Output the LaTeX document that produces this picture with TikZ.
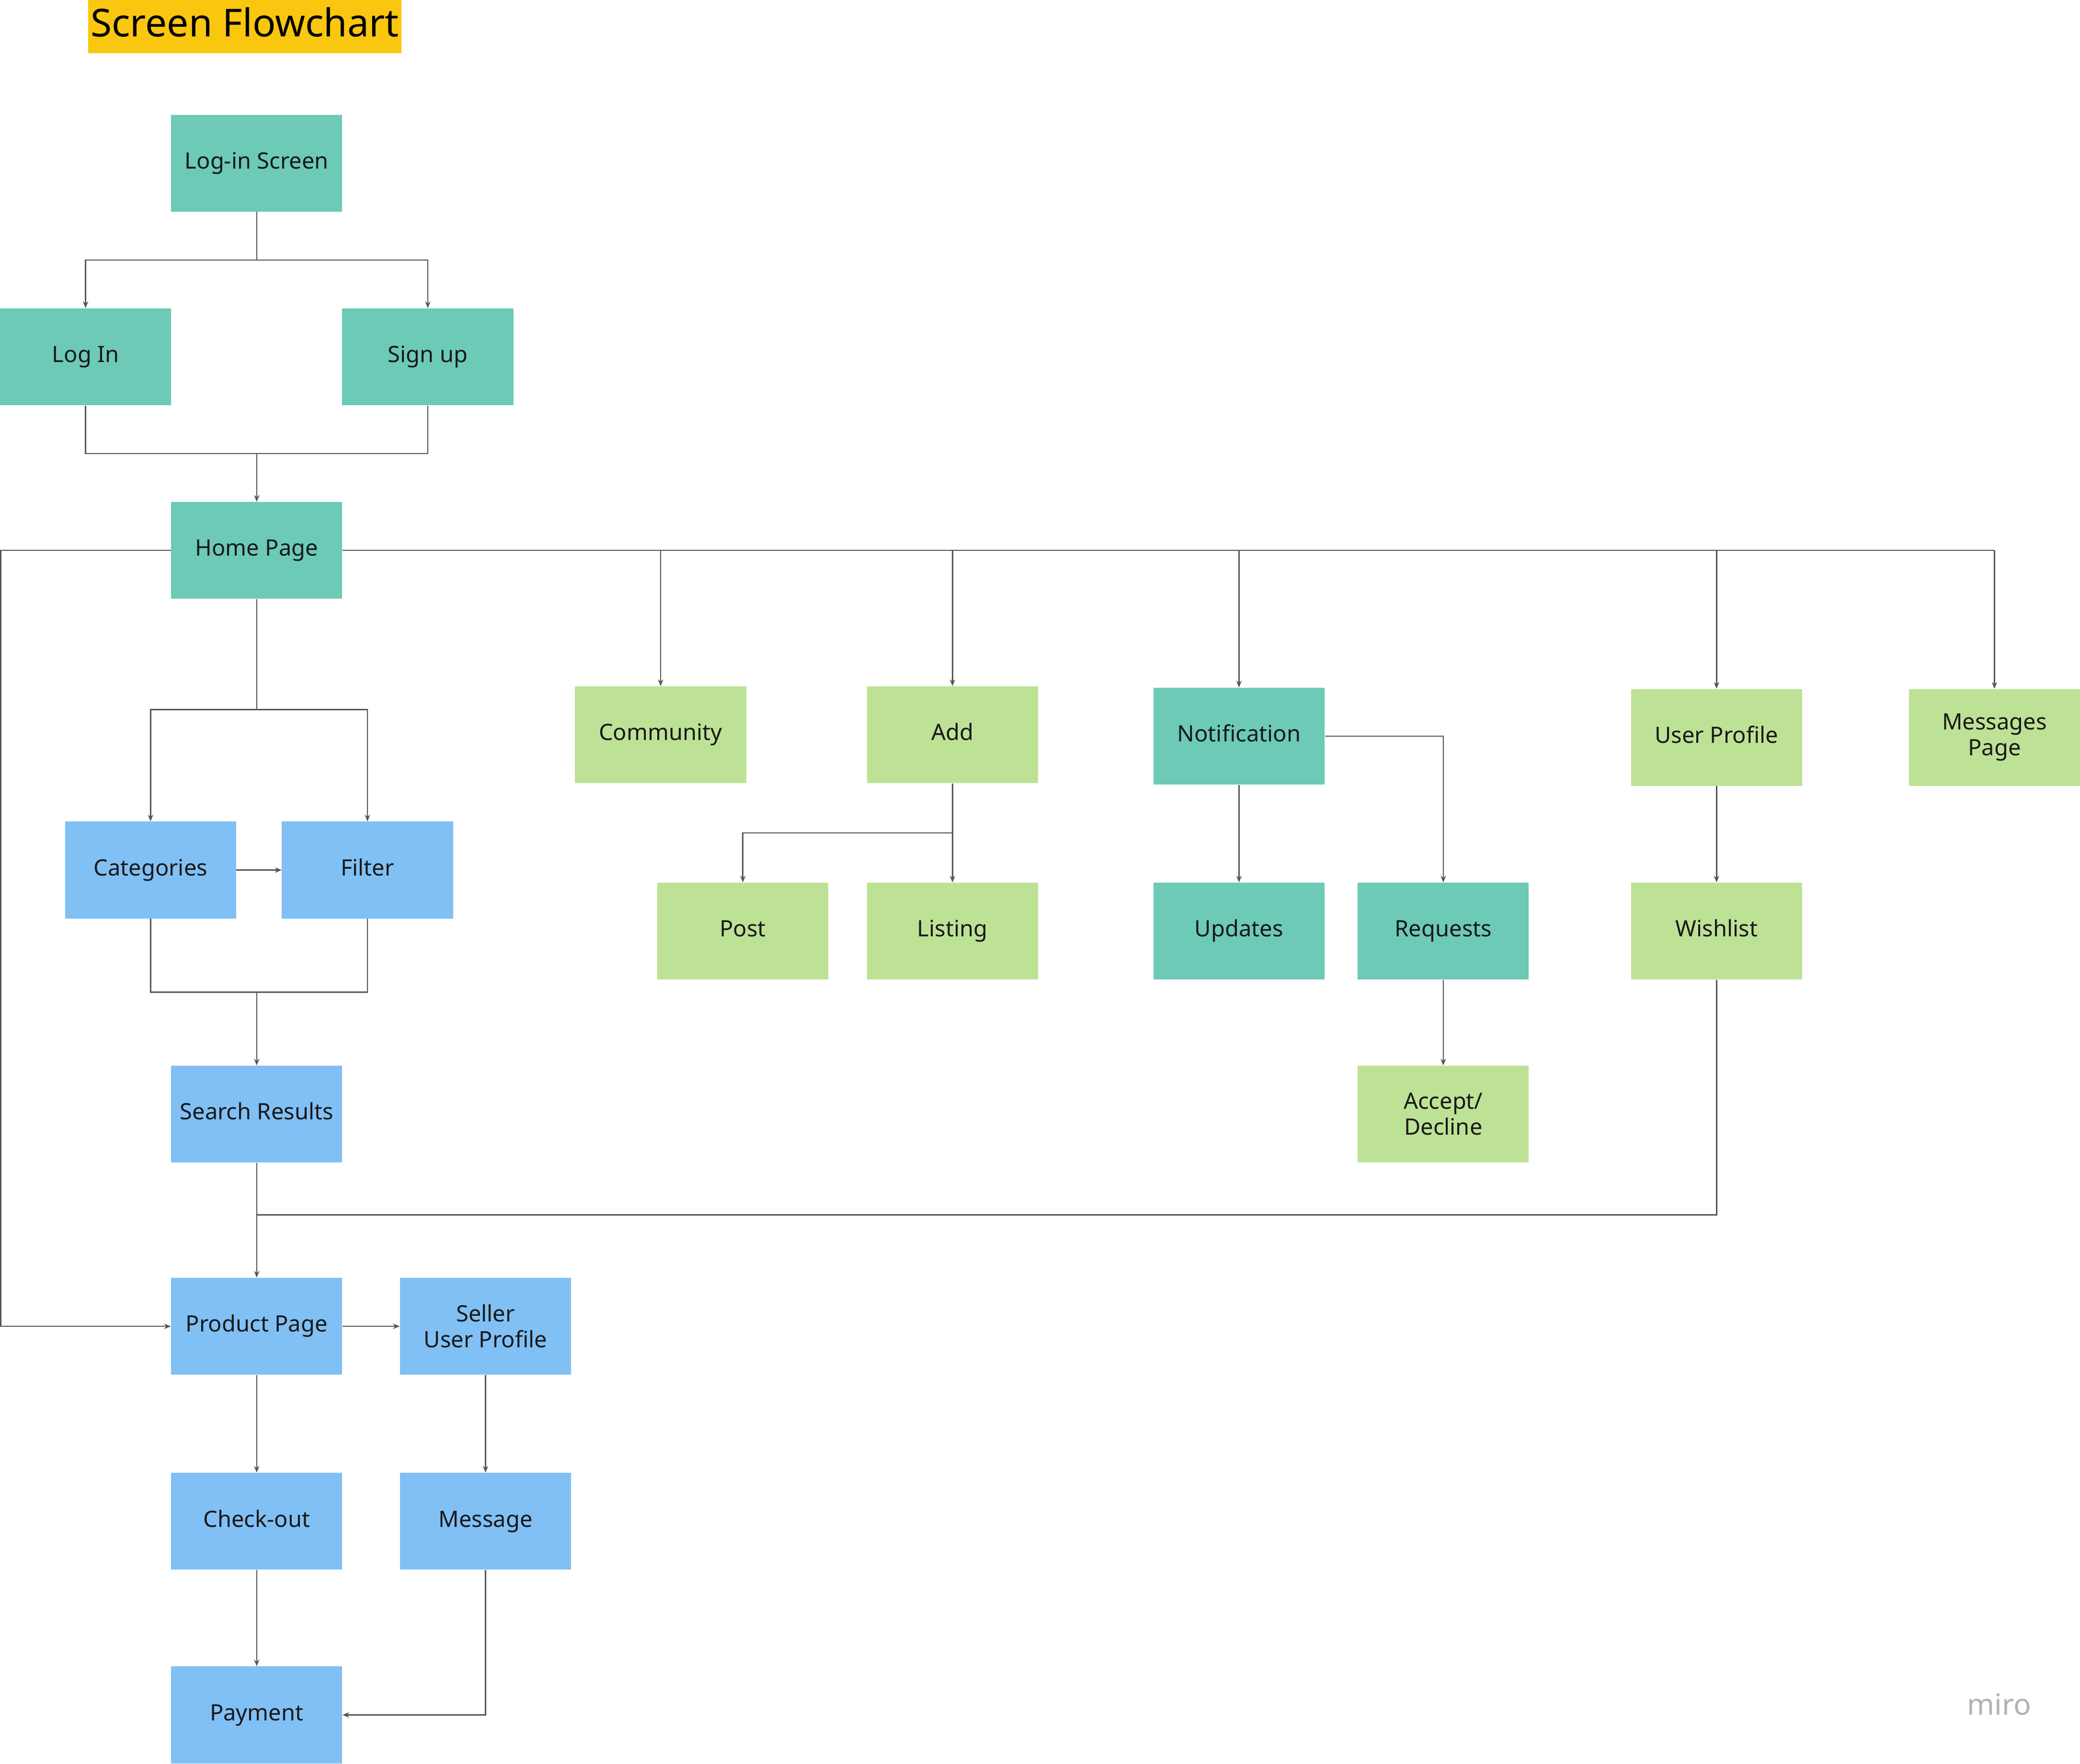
\documentclass[tikz,border=0pt]{standalone}
\usepackage{fontspec}
\setmainfont{Noto Sans}
\usetikzlibrary{arrows.meta}
\definecolor{teal}{HTML}{6CCAB6}
\definecolor{grn}{HTML}{BDE296}
\definecolor{blu}{HTML}{80C0F5}
\definecolor{ln}{HTML}{555555}
\begin{document}
\begin{tikzpicture}[x=1pt,y=-1pt,
 box/.style={minimum width=129pt,minimum height=73pt,inner sep=0pt,align=center,font=\fontsize{17}{19.5}\selectfont,text=black!90},
 T/.style={box,fill=teal},G/.style={box,fill=grn},B/.style={box,fill=blu},
 o/.style={text height=12.5pt,text depth=4pt},
 c/.style={draw=ln,line width=0.9pt},
 a/.style={c,-{Stealth[length=5pt,width=4pt]}}]
\useasboundingbox (0,0) rectangle (1568,1330);
\node[fill={rgb,255:red,250;green,199;blue,16},inner xsep=2pt,minimum height=40pt,text height=21pt,text depth=6pt,font=\fontsize{29}{32}\selectfont,anchor=center] (title) at (184.5,20) {Screen Flowchart};
\node[T,o] (ls) at (193.5,123) {Log-in Screen};
\node[T,o] (li) at (64.5,269) {Log In};
\node[T,o] (su) at (322.5,269) {Sign up};
\node[T,o] (hp) at (193.5,415) {Home Page};
\node[G,o] (com) at (498,554) {Community};
\node[G,o] (add) at (718,554) {Add};
\node[T,o] (not) at (934,555) {Notification};
\node[G,o] (up) at (1294,556) {User Profile};
\node[G] (mp) at (1503.5,556) {Messages\\Page};
\node[B,o] (cat) at (113.5,656) {Categories};
\node[B,o] (fil) at (277,656) {Filter};
\node[G,o] (post) at (560,702) {Post};
\node[G,o] (lst) at (718,702) {Listing};
\node[T,o] (upd) at (934,702) {Updates};
\node[T,o] (req) at (1088,702) {Requests};
\node[G,o] (wl) at (1294,702) {Wishlist};
\node[G] (acc) at (1088,840) {Accept/\\Decline};
\node[B,o] (sr) at (193.5,840) {Search Results};
\node[B,o] (pp) at (193.5,1000) {Product Page};
\node[B] (sp) at (366,1000) {Seller\\User Profile};
\node[B,o] (co) at (193.5,1147) {Check-out};
\node[B,o] (msg) at (366,1147) {Message};
\node[B,o] (pay) at (193.5,1293) {Payment};
\node[text=black!30,font=\fontsize{22}{24}\selectfont] (miro) at (1507,1285) {miro};
\coordinate (s1) at (193.5,196);
\draw[c] (ls.south) -- (s1);
\draw[a] (s1) -| (li.north);
\draw[a] (s1) -| (su.north);
\coordinate (j1) at (193.5,342);
\draw[c] (li.south) |- (j1);
\draw[c] (su.south) |- (j1);
\draw[a] (j1) -- (hp.north);
\coordinate (l1) at (0.5,415);
\draw[a] (hp.west) -- (l1) |- (pp.west);
\coordinate (r1) at (1503.5,415);
\draw[c] (hp.east) -- (r1);
\draw[a] (r1) -- (mp.north);
\draw[a] (com.north|-hp.east) -- (com.north);
\draw[a] (add.north|-hp.east) -- (add.north);
\draw[a] (not.north|-hp.east) -- (not.north);
\draw[a] (up.north|-hp.east) -- (up.north);
\coordinate (s2) at (193.5,535);
\draw[c] (hp.south) -- (s2);
\draw[a] (s2) -| (cat.north);
\draw[a] (s2) -| (fil.north);
\draw[a] (cat) -- (fil);
\coordinate (j2) at (193.5,748);
\draw[c] (cat.south) |- (j2);
\draw[c] (fil.south) |- (j2);
\draw[a] (j2) -- (sr.north);
\coordinate (j3) at (193.5,916);
\draw[c] (sr.south) -- (j3);
\draw[c] (wl.south) |- (j3);
\draw[a] (j3) -- (pp.north);
\coordinate (s3) at (718,628);
\draw[a] (add.south) -- (lst.north);
\draw[a] (s3) -| (post.north);
\draw[a] (not) -- (upd);
\draw[a] (not.east) -| (req.north);
\draw[a] (req) -- (acc);
\draw[a] (up) -- (wl);
\draw[a] (pp) -- (sp);
\draw[a] (pp) -- (co);
\draw[a] (sp) -- (msg);
\draw[a] (co) -- (pay);
\draw[a] (msg.south) |- (pay.east);
\end{tikzpicture}
\end{document}
